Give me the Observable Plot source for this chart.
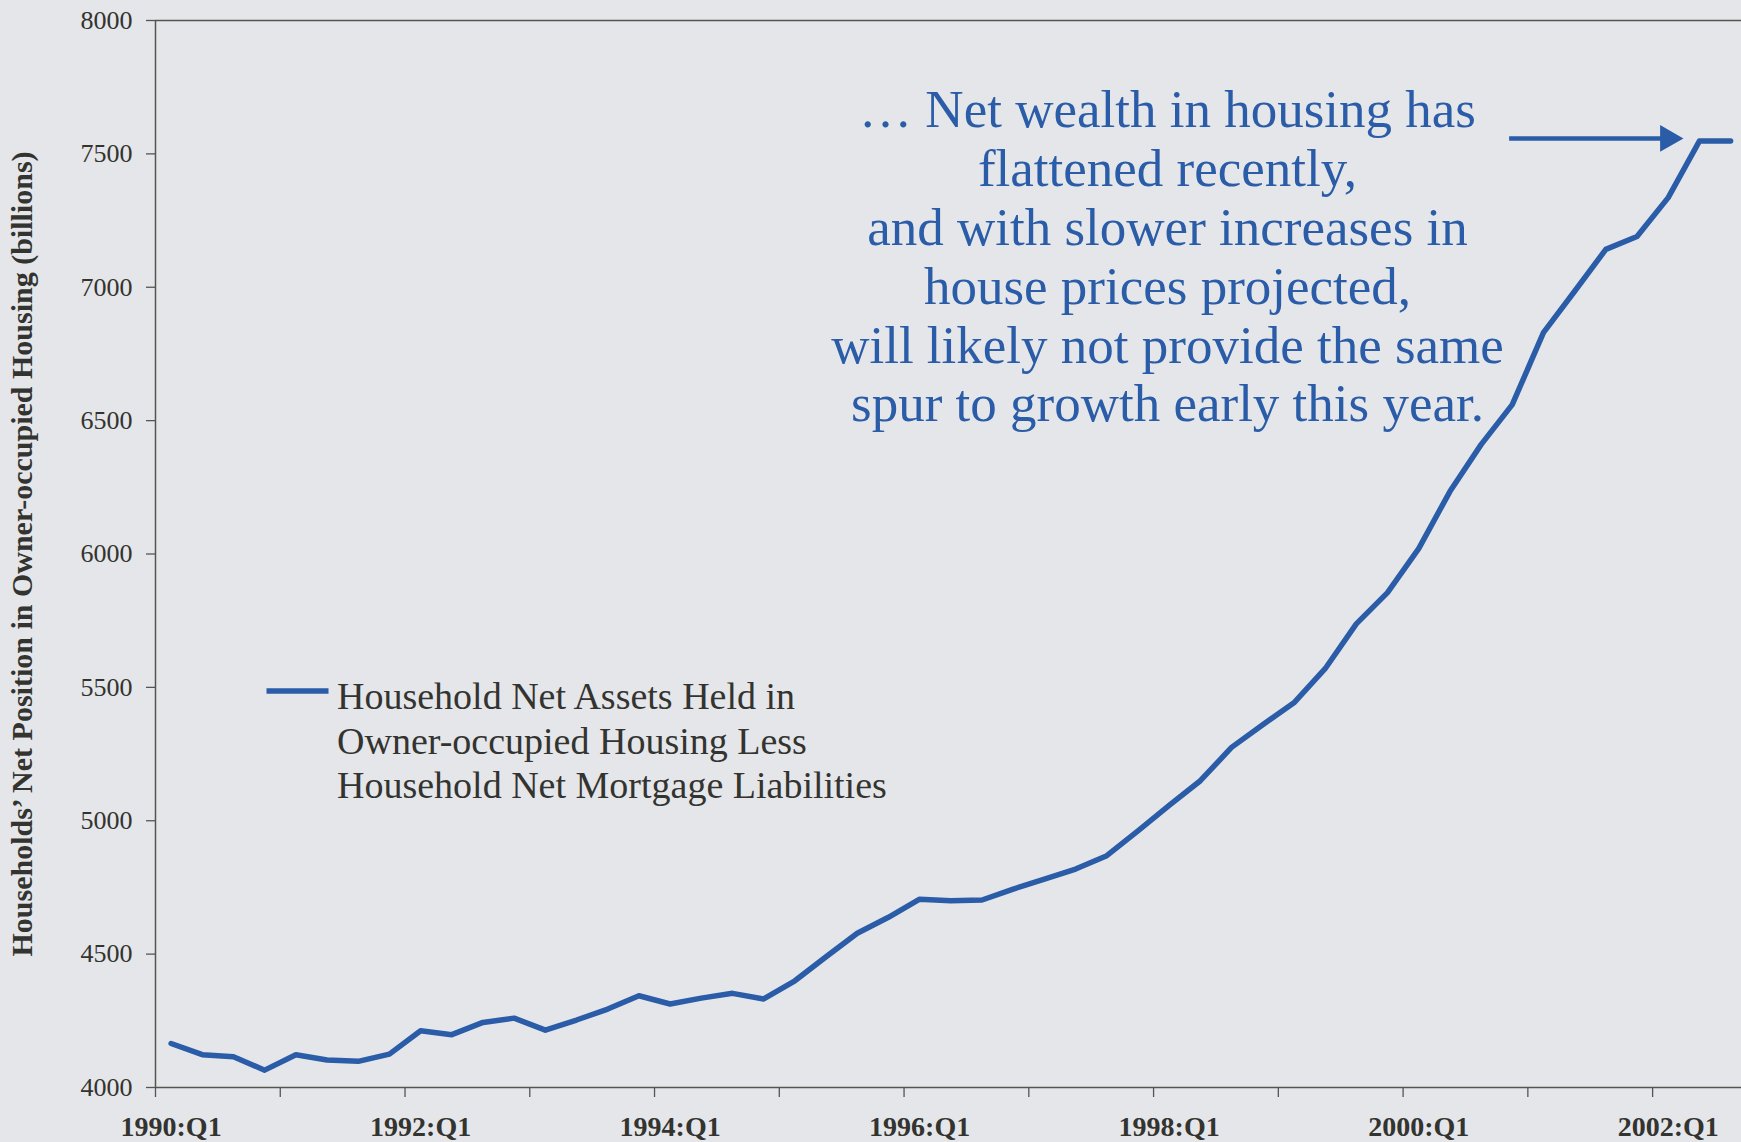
<!DOCTYPE html>
<html>
<head>
<meta charset="utf-8">
<script src="https://cdn.jsdelivr.net/npm/d3@7"></script>
<script src="https://cdn.jsdelivr.net/npm/@observablehq/plot@0.6"></script>
<style>
  html, body { margin: 0; padding: 0; background: #e4e6ea; }
  #chart { width: 1741px; height: 1142px; overflow: hidden; }
  #chart svg { display: block; }
</style>
</head>
<body>
<div id="chart"></div>
<script>
// ---- Data ----
const years = [1990, 1991, 1992, 1993, 1994, 1995, 1996, 1997, 1998, 1999, 2000, 2001, 2002];
const quarters = [];
for (const yr of years) for (const q of [1, 2, 3, 4]) quarters.push(`${yr}:Q${q}`);
quarters.length = 51; // 1990:Q1 .. 2002:Q3

// Household net position in owner-occupied housing (billions)
const values = [
  4165, 4123, 4115, 4065,   // 1990
  4123, 4103, 4098, 4125,   // 1991
  4213, 4198, 4244, 4260,   // 1992
  4215, 4253, 4294, 4344,   // 1993
  4313, 4335, 4353, 4332,   // 1994
  4400, 4490, 4578, 4638,   // 1995
  4706, 4700, 4703, 4744,   // 1996
  4781, 4819, 4869, 4962,   // 1997
  5058, 5150, 5275, 5360,   // 1998
  5442, 5570, 5738, 5855,   // 1999
  6020, 6234, 6410, 6560,   // 2000
  6830, 6985, 7142, 7190,   // 2001
  7336, 7548, 7548          // 2002
];

const yTicks = [4000, 4500, 5000, 5500, 6000, 6500, 7000, 7500, 8000];
const yearBoundaryTicks = [0, 4, 8, 12, 16, 20, 24, 28, 32, 36, 40, 44, 48];
const xLabelQuarters = ["1990:Q1", "1992:Q1", "1994:Q1", "1996:Q1", "1998:Q1", "2000:Q1", "2002:Q1"];

const yTitle = "Households\u2019 Net Position in Owner-occupied Housing (billions)";
const legendLines = [
  "Household Net Assets Held in",
  "Owner-occupied Housing Less",
  "Household Net Mortgage Liabilities"
];
const annotationLines = [
  "\u2026 Net wealth in housing has",
  "flattened recently,",
  "and with slower increases in",
  "house prices projected,",
  "will likely not provide the same",
  "spur to growth early this year."
];
// annotation arrow (quarter-index units / billions)
const arrowStart = 43.4;
const arrowHeadCenter = 48.49;
const arrowValue = 7558;

// ---- Build ----
const rows = values.map((v, i) => ({pos: i + 0.5, label: quarters[i], value: v}));
const labelPositions = xLabelQuarters.map(q => quarters.indexOf(q) + 0.5);

const blue = "#2a5ca8";
const ink = "#33332f";
const axisColor = "#55554f";
const serif = "'Liberation Serif', 'Times New Roman', Times, serif";

const chart = Plot.plot({
  width: 1741,
  height: 1142,
  marginLeft: 155,
  marginRight: 0,
  marginTop: 20,
  marginBottom: 55,
  style: {background: "transparent", fontFamily: serif, color: ink, overflow: "visible"},
  x: {type: "linear", domain: [0, 50.85]},
  y: {domain: [4000, 8000]},
  marks: [
    Plot.axisY({ticks: yTicks, tickSize: 9, tickPadding: 14, fontSize: 26, label: null,
                tickFormat: d => String(d),
                stroke: axisColor, fill: ink, strokeWidth: 1.3}),
    Plot.axisX({ticks: yearBoundaryTicks, tickSize: 10, tickFormat: () => "", label: null,
                stroke: axisColor, strokeWidth: 1.3}),
    Plot.axisX({ticks: labelPositions, tickSize: 0, tickPadding: 29,
                tickFormat: d => quarters[Math.floor(d)], fontSize: 28, fontWeight: "bold",
                label: null, fill: ink}),
    Plot.ruleY([4000, 8000], {stroke: axisColor, strokeWidth: 1.5}),
    Plot.ruleX([0], {stroke: axisColor, strokeWidth: 1.5}),
    Plot.lineY(rows, {x: "pos", y: "value", stroke: blue, strokeWidth: 5.5,
                      strokeLinejoin: "round", strokeLinecap: "round"}),
    Plot.text([yTitle], {frameAnchor: "left", rotate: -90, dx: -133, fontSize: 30,
                         fontWeight: "bold", fill: ink, textAnchor: "middle"}),
    Plot.text([annotationLines.join("\n")], {frameAnchor: "top-left", dx: 1012, dy: 65,
                         textAnchor: "middle", lineAnchor: "top", lineHeight: 1.11,
                         fontSize: 53, fill: blue}),
    Plot.text([legendLines.join("\n")], {frameAnchor: "top-left", dx: 181.5, dy: 657,
                         textAnchor: "start", lineAnchor: "top", lineHeight: 1.17,
                         fontSize: 38, fill: ink}),
    Plot.link([{x1: arrowStart, x2: arrowHeadCenter, y: arrowValue}],
              {x1: "x1", x2: "x2", y1: "y", y2: "y", stroke: blue, strokeWidth: 4.5}),
    Plot.dot([{x: arrowHeadCenter, y: arrowValue}],
             {x: "x", y: "y", symbol: "triangle", rotate: 90, r: 10, fill: blue, stroke: "none"})
  ]
});

document.getElementById("chart").appendChild(chart);

// legend swatch, placed just left of the legend text
const svg = d3.select(chart);
const legendX = 155 + 181.5;
const swatchY = 691;
svg.append("line")
  .attr("x1", legendX - 70).attr("x2", legendX - 8)
  .attr("y1", swatchY).attr("y2", swatchY)
  .attr("stroke", blue).attr("stroke-width", 5.5);
</script>
</body>
</html>
